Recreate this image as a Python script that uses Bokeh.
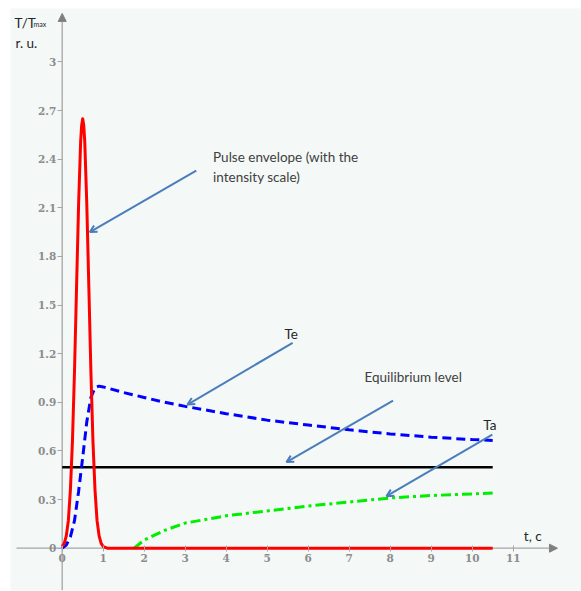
from bokeh.plotting import figure
from bokeh.models import Range1d, FixedTicker, Arrow, OpenHead, NormalHead, Label
from bokeh.embed import file_html
from bokeh.resources import INLINE

# ---- data ----
pulse_t = [0.0, 0.05, 0.1, 0.15, 0.2, 0.25, 0.3, 0.35, 0.4, 0.45, 0.475, 0.5, 0.525,
           0.55, 0.6, 0.65, 0.7, 0.75, 0.8, 0.85, 0.9, 0.95, 1.0, 1.1, 10.5]
pulse_y = [0.01, 0.03, 0.076, 0.17, 0.36, 0.66, 1.09, 1.61, 2.12, 2.51, 2.61, 2.65, 2.61,
           2.51, 2.12, 1.61, 1.09, 0.66, 0.36, 0.17, 0.076, 0.03, 0.01, 0.0, 0.0]

te_t = [0.0, 0.1, 0.2, 0.3, 0.4, 0.5, 0.6, 0.7, 0.8, 0.9, 1.0, 1.5, 2.0, 2.5,
        3.0, 4.0, 5.0, 6.0, 7.0, 8.0, 9.0, 10.0, 10.5]
te_y = [0.0, 0.02, 0.07, 0.17, 0.35, 0.56, 0.78, 0.93, 0.99, 1.0, 0.995, 0.96,
        0.93, 0.90, 0.875, 0.83, 0.79, 0.76, 0.73, 0.705, 0.685, 0.67, 0.665]

ta_t = [1.75, 1.85, 2.0, 2.5, 3.0, 4.0, 5.0, 6.0, 7.0, 8.0, 9.0, 10.0, 10.5]
ta_y = [0.0, 0.02, 0.05, 0.11, 0.155, 0.2, 0.23, 0.26, 0.285, 0.31, 0.325, 0.335, 0.34]

eq_t = [0.0, 10.5]
eq_level = 0.5

x_ticks = [0, 1, 2, 3, 4, 5, 6, 7, 8, 9, 10, 11]
y_ticks = [0, 0.3, 0.6, 0.9, 1.2, 1.5, 1.8, 2.1, 2.4, 2.7, 3]
y_tick_labels = ["0", "0.3", "0.6", "0.9", "1.2", "1.5", "1.8", "2.1", "2.4", "2.7", "3"]

# ---- figure ----
p = figure(width=581, height=591, output_backend="svg", toolbar_location=None,
           x_range=Range1d(-1.261, 12.666), y_range=Range1d(-0.261, 3.3295),
           min_border_left=10, min_border_right=0, min_border_top=8, min_border_bottom=1,
           background_fill_color="#f4f8f6", border_fill_color="white",
           outline_line_color=None)
p.grid.visible = False

axis_grey = "#a6a6a6"
lab_font = "DejaVu Serif"

p.xaxis.fixed_location = 0
p.xaxis.ticker = FixedTicker(ticks=x_ticks)
p.xaxis.axis_line_color = None
p.xaxis.major_tick_line_color = axis_grey
p.xaxis.major_tick_in = 3
p.xaxis.major_tick_out = 3
p.xaxis.minor_tick_line_color = None
p.xaxis.major_label_text_font = lab_font
p.xaxis.major_label_text_font_style = "bold"
p.xaxis.major_label_text_font_size = "10.5px"
p.xaxis.major_label_text_color = "#8c8c8c"
p.xaxis.major_label_standoff = 3

p.yaxis.fixed_location = 0
p.yaxis.ticker = FixedTicker(ticks=y_ticks)
p.yaxis.major_label_overrides = dict(zip(y_ticks, y_tick_labels))
p.yaxis.axis_line_color = None
p.yaxis.major_tick_line_color = axis_grey
p.yaxis.major_tick_in = 0
p.yaxis.major_tick_out = 5
p.yaxis.minor_tick_line_color = None
p.yaxis.major_label_text_font = lab_font
p.yaxis.major_label_text_font_style = "bold"
p.yaxis.major_label_text_font_size = "10.5px"
p.yaxis.major_label_text_color = "#8c8c8c"
p.yaxis.major_label_standoff = 1

# axis lines with arrow heads (drawn beneath the curves)
p.add_layout(Arrow(end=NormalHead(size=8, fill_color="#7f7f7f", line_color="#7f7f7f"),
                   x_start=-1.115, y_start=0, x_end=12.08, y_end=0,
                   line_color=axis_grey, line_width=1.3, level="underlay"))
p.add_layout(Arrow(end=NormalHead(size=8, fill_color="#7f7f7f", line_color="#7f7f7f"),
                   x_start=0, y_start=-0.261, x_end=0, y_end=3.299,
                   line_color=axis_grey, line_width=1.3, level="underlay"))

# ---- series ----
p.line(eq_t, [eq_level, eq_level], line_color="black", line_width=2.5)
p.line(ta_t, ta_y, line_color="#00ee00", line_width=3, line_dash="10 4 3 4")
p.line(te_t, te_y, line_color="#0000ff", line_width=3, line_dash="9 5")
p.line(pulse_t, pulse_y, line_color="#ff0000", line_width=3, line_join="round")

# ---- annotation arrows ----
arrow_c = "#4a7ebb"
for xs, ys, xe, ye in [(3.27, 2.33, 0.673, 1.95),
                       (5.62, 1.267, 3.056, 0.886),
                       (8.07, 0.911, 5.47, 0.531),
                       (10.49, 0.701, 7.91, 0.321)]:
    p.add_layout(Arrow(end=OpenHead(size=7, line_color=arrow_c, line_width=2),
                       x_start=xs, y_start=ys, x_end=xe, y_end=ye,
                       line_color=arrow_c, line_width=2))

txt_font = "Lato"
def lab(x, y, t, size="13.5px", color="#404040"):
    p.add_layout(Label(x=x, y=y, text=t, text_font=txt_font, text_font_size=size,
                       text_color=color, text_baseline="alphabetic"))

lab(3.68, 2.413, "Pulse envelope (with the")
lab(3.68, 2.289, "intensity scale)")
lab(5.42, 1.3226, "Te", color="#262626")
lab(7.373, 1.055, "Equilibrium level")
lab(10.27, 0.763, "Ta", color="#262626")
lab(11.26, 0.0783, "t, c", color="#262626")
lab(-1.163, 3.243, "T/T", color="#262626")
lab(-0.70, 3.231, "max", size="7px", color="#262626")
lab(-1.139, 3.115, "r. u.", color="#262626")

open("out.html", "w").write(file_html(p, INLINE))
